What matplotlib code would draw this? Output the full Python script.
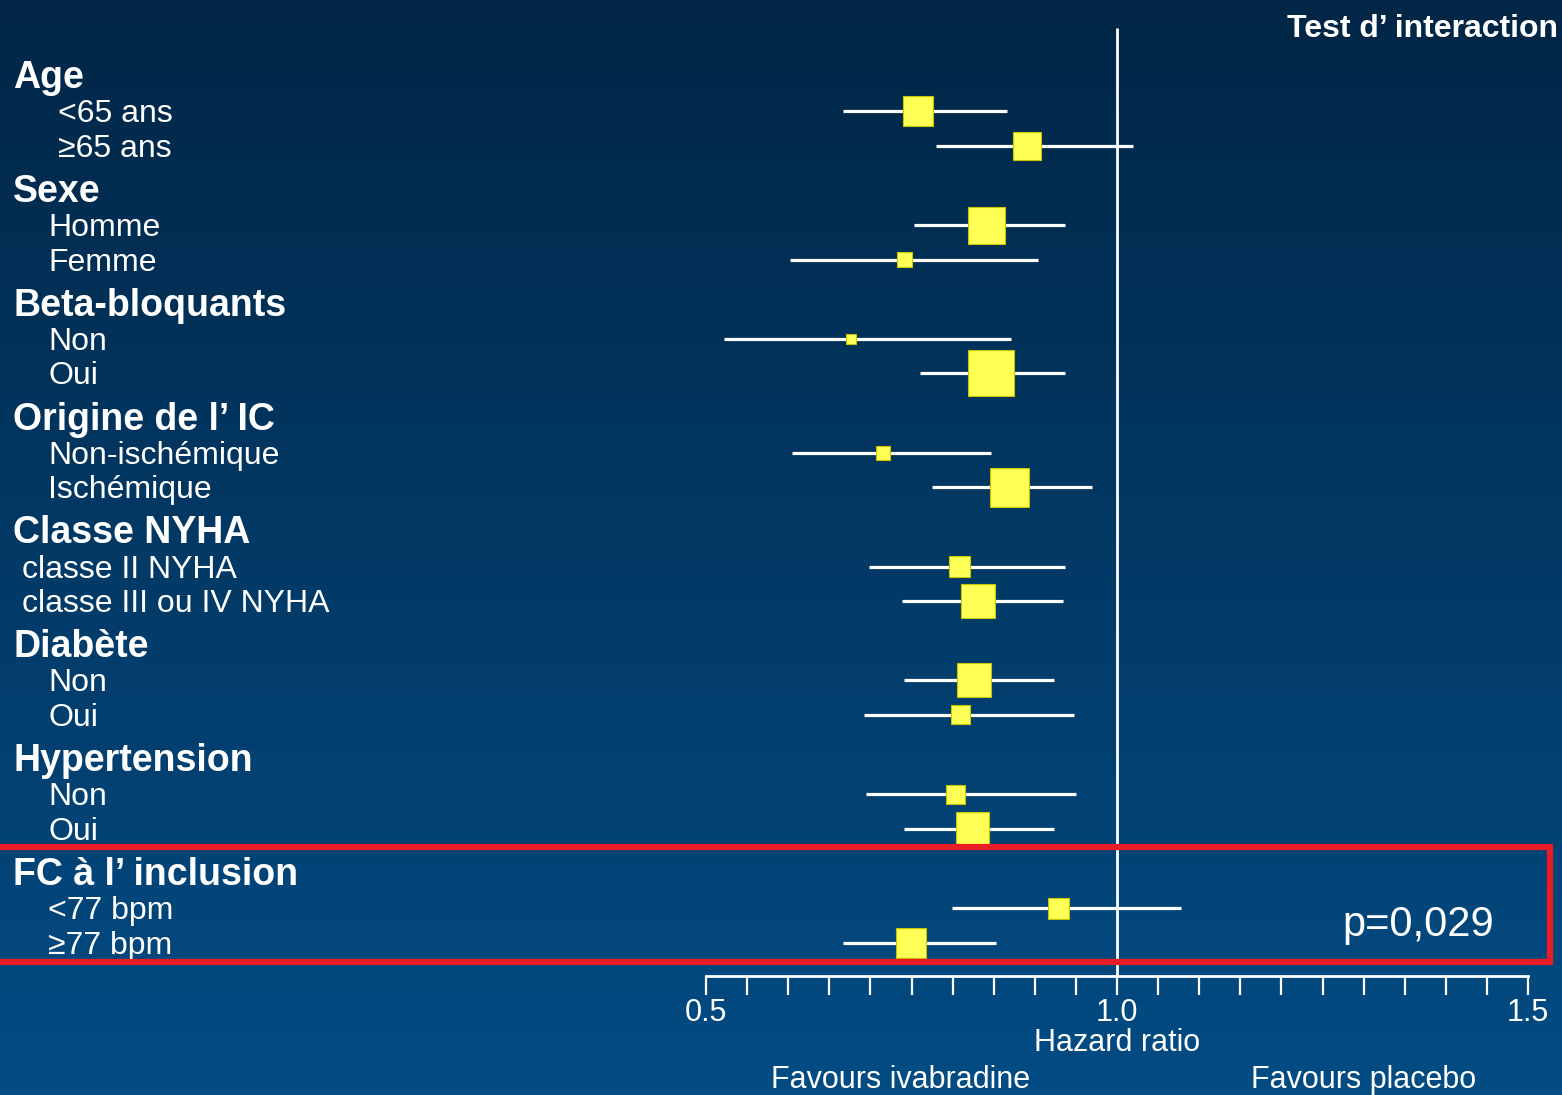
import numpy as np
import matplotlib
matplotlib.use("Agg")
import matplotlib.pyplot as plt
import matplotlib.transforms as mtransforms
from matplotlib.patches import Rectangle

plt.rcParams['font.family'] = ['Liberation Sans', 'DejaVu Sans']

# data
groups = ['Age', 'Sexe', 'Beta-bloquants', 'Origine de l’ IC', 'Classe NYHA',
          'Diabète', 'Hypertension', 'FC à l’ inclusion']
subgroups = [['<65 ans', '≥65 ans'],
             ['Homme', 'Femme'],
             ['Non', 'Oui'],
             ['Non-ischémique', 'Ischémique'],
             ['classe II NYHA', 'classe III ou IV NYHA'],
             ['Non', 'Oui'],
             ['Non', 'Oui'],
             ['<77 bpm', '≥77 bpm']]
hr = [0.758, 0.890, 0.841, 0.741, 0.676, 0.847, 0.715, 0.869,
      0.808, 0.831, 0.826, 0.810, 0.804, 0.824, 0.929, 0.749]
ci_low = [0.667, 0.780, 0.753, 0.602, 0.522, 0.760, 0.605, 0.775,
          0.698, 0.738, 0.741, 0.692, 0.695, 0.741, 0.799, 0.667]
ci_high = [0.866, 1.019, 0.937, 0.904, 0.871, 0.937, 0.847, 0.970,
           0.937, 0.934, 0.923, 0.948, 0.950, 0.923, 1.078, 0.853]
weight = [30, 28, 37, 15, 10, 46, 14, 39, 21, 34, 34, 19, 19, 33, 21, 30]
xticks = np.arange(0.5, 1.5001, 0.05)
xticklabels = ['0.5', '1.0', '1.5']
p_text = 'p=0,029'

W, H = 1562, 1095
fig = plt.figure(figsize=(W / 100, H / 100), dpi=100)

# background gradient
bg = fig.add_axes([0, 0, 1, 1])
bg.set_axis_off()
top = np.array([1, 38, 70]) / 255
bottom = np.array([3, 76, 132]) / 255
t = np.linspace(0, 1, 256)[:, None, None]
grad = top * (1 - t) + bottom * t
grad = np.repeat(grad, 2, axis=1)
bg.imshow(grad, aspect='auto', extent=[0, 1, 0, 1], origin='upper')

ax = fig.add_axes([0, 0, 1, 1])
ax.patch.set_alpha(0)

# layout: 1 unit = 34.5 px, 0 = "Age" header
row_px = 34.5
x0_px, px_per_unit = 706, 822
ax.set_xlim(0.5 - x0_px / px_per_unit, 0.5 + (W - x0_px) / px_per_unit)
ax.set_ylim((H - 75) / row_px, -75 / row_px)

group_y = [g * 3.3 for g in range(len(groups))]
row_y = []
for g in group_y:
    row_y += [g + 1.05, g + 2.05]
row_y = np.array(row_y)

# CI lines + boxes
ax.hlines(row_y, ci_low, ci_high, color='white', lw=2.3, zorder=3)
ax.scatter(hr, row_y, marker='s', s=(np.array(weight) * 0.72) ** 2,
           facecolor='#ffff55', edgecolor='#c8c400', linewidth=0.8, zorder=4)

# reference line at 1.0
axis_y = row_y[-1] + 0.97
ax.vlines(1.0, -1.36, axis_y, color='white', lw=2, zorder=2)

# x axis
for s in ['left', 'right', 'top']:
    ax.spines[s].set_visible(False)
ax.spines['bottom'].set_position(('data', axis_y))
ax.spines['bottom'].set_bounds(0.5, 1.5)
ax.spines['bottom'].set_color('white')
ax.spines['bottom'].set_linewidth(2)
ax.set_xticks(xticks)
ax.set_xticklabels([xticklabels[i // 10] if i % 10 == 0 else '' for i in range(len(xticks))])
ax.tick_params(axis='x', direction='out', length=13.5, width=1.6, color='white',
               labelcolor='white', labelsize=22, pad=2)
ax.set_yticks([])

ax.text(1.0, axis_y + 1.95, 'Hazard ratio', color='white', fontsize=22,
        ha='center', va='center')
ax.text(0.737, axis_y + 3.0, 'Favours ivabradine', color='white', fontsize=22,
        ha='center', va='center')
ax.text(1.30, axis_y + 3.0, 'Favours placebo', color='white', fontsize=22,
        ha='center', va='center')

# labels
trans = mtransforms.blended_transform_factory(fig.transFigure, ax.transData)
indent = {'<65 ans': 58, '≥65 ans': 58, 'classe II NYHA': 22, 'classe III ou IV NYHA': 22}
for gi, (name, subs) in enumerate(zip(groups, subgroups)):
    ax.text(13 / W, group_y[gi] + 13 / row_px, name, transform=trans, color='white',
            fontsize=27, fontweight='bold', ha='left', va='baseline')
    for si, sub in enumerate(subs):
        ax.text(indent.get(sub, 48) / W, row_y[2 * gi + si] + 11 / row_px, sub,
                transform=trans, color='white', fontsize=23, ha='left', va='baseline')

fig.text(1 - 4 / W, 1 - 29 / H, 'Test d’ interaction', color='white', fontsize=23,
         fontweight='bold', ha='right', va='center')

# highlight box around last group
box_top = group_y[-1] - 0.72
box_bot = row_y[-1] + 0.56
x_left = 0.5 + (-6 - x0_px) / px_per_unit
x_right = 0.5 + (1550 - x0_px) / px_per_unit
ax.add_patch(Rectangle((x_left, box_top), x_right - x_left, box_bot - box_top,
                       fill=False, edgecolor='#e81c24', lw=4.5, zorder=5, clip_on=False))
ax.text(0.5 + (1418 - x0_px) / px_per_unit, row_y[-1] - 0.5, p_text, color='white',
        fontsize=30, ha='center', va='center')

fig.savefig('out.png', dpi=100)
